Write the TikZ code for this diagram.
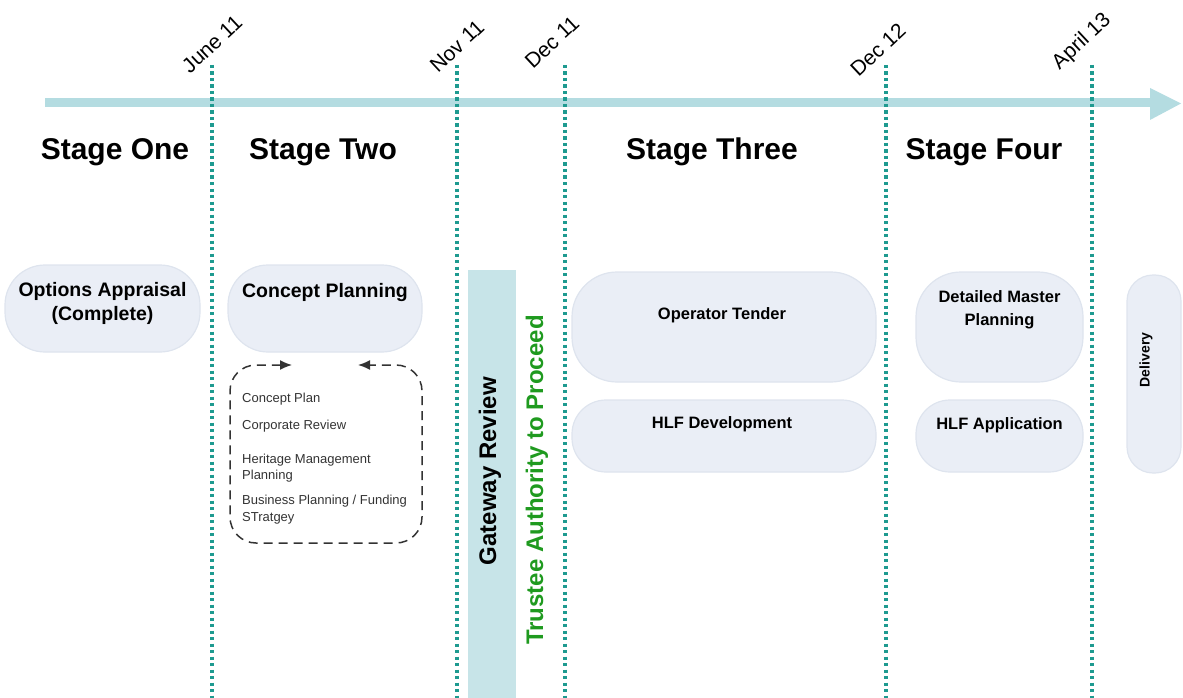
\documentclass[tikz,border=0pt]{standalone}
\usepackage{fontspec}
\setmainfont{Liberation Sans}
\usetikzlibrary{arrows.meta}

\definecolor{barblue}{HTML}{B4DCE1}
\definecolor{gatefill}{HTML}{C7E4E8}
\definecolor{dotteal}{HTML}{1E9A90}
\definecolor{pillfill}{HTML}{EAEEF6}
\definecolor{pilledge}{HTML}{DEE4EE}
\definecolor{trustgreen}{HTML}{1F9A1F}
\definecolor{smalltext}{HTML}{333333}

\begin{document}
\begin{tikzpicture}[x=1pt,y=-1pt,
  pill/.style={fill=pillfill, draw=pilledge, line width=1.2pt, inner sep=0pt},
  stagetitle/.style={font=\fontsize{30}{34}\selectfont\bfseries, anchor=base},
  datelabel/.style={font=\fontsize{21}{25}\selectfont, rotate=43, inner sep=0pt},
  milestone/.style={draw=dotteal, line width=3.4pt, dash pattern=on 3.2pt off 3.3pt},
  bigtask/.style={font=\fontsize{19.5}{24}\selectfont\bfseries, align=center, inner sep=0pt},
  task/.style={font=\fontsize{16.5}{23}\selectfont\bfseries, align=center, inner sep=0pt},
  subtask/.style={font=\fontsize{13}{16.5}\selectfont, text=smalltext, align=left, anchor=base west, inner sep=0pt},
  vertlabel/.style={font=\fontsize{24}{28}\selectfont\bfseries, rotate=90, inner sep=0pt},
  loopline/.style={draw=smalltext, line width=1.5pt, dash pattern=on 9pt off 6pt, rounded corners=26pt}
]
\useasboundingbox (0,0) rectangle (1183,698);

% ---- timeline arrow ----
\fill[barblue] (45,98.5) rectangle (1152,107.5);
\fill[barblue] (1150,88) -- (1181,103.5) -- (1150,120) -- cycle;

% ---- gateway column ----
\node[fill=gatefill, minimum width=48pt, minimum height=428pt, inner sep=0pt] (gate) at (492,484) {};

% ---- milestone lines ----
\foreach \name/\xx in {june/212, nov/457, decA/565, decB/886, apr/1092} {
  \coordinate (\name-top) at (\xx,65);
  \coordinate (\name-bot) at (\xx,698);
  \draw[milestone] (\name-top) -- (\name-bot);
}

% ---- date labels ----
\node[datelabel] (lbl-june) at (212,44) {June 11};
\node[datelabel] (lbl-nov)  at (457,46) {Nov 11};
\node[datelabel] (lbl-decA) at (552,42) {Dec 11};
\node[datelabel] (lbl-decB) at (878,50) {Dec 12};
\node[datelabel] (lbl-apr)  at (1082,42) {April 13};

% ---- stage titles ----
\node[stagetitle] (st1) at (115,160) {Stage One};
\node[stagetitle] (st2) at (323,160) {Stage Two};
\node[stagetitle] (st3) at (712,160) {Stage Three};
\node[stagetitle] (st4) at (984,160) {Stage Four};

% ---- stage one / two ----
\node[pill, rounded corners=40pt, minimum width=195pt, minimum height=87pt] (optpill) at (102.5,308.5) {};
\node[bigtask] (opttext) at (102.5,303) {Options Appraisal\\(Complete)};

\node[pill, rounded corners=40pt, minimum width=194pt, minimum height=87pt] (cppill) at (325,308.5) {};
\node[bigtask, anchor=base] (cptext) at (325,297) {Concept Planning};

% dashed review loop under Concept Planning
\coordinate (loopL) at (292,365);
\coordinate (loopR) at (358,365);
\draw[loopline, {Latex[length=12pt,width=10pt]}-{Latex[length=12pt,width=10pt]}]
  (loopL) -- (230,365) -- (230,543) -- (422,543) -- (422,365) -- (loopR);

\node[subtask] (sub1) at (242,402) {Concept Plan};
\node[subtask] (sub2) at (242,429) {Corporate Review};
\node[subtask] (sub3) at (242,479.5) {Heritage Management\\Planning};
\node[subtask] (sub4) at (242,521) {Business Planning / Funding\\STratgey};

% ---- gateway texts ----
\node[vertlabel] (gatetext) at (490,471) {Gateway Review};
\node[vertlabel, text=trustgreen] (trusttext) at (537,480) {Trustee Authority to Proceed};

% ---- stage three ----
\node[pill, rounded corners=45pt, minimum width=304pt, minimum height=110pt] (oppill) at (724,327) {};
\node[task, anchor=base] (optender) at (722,319) {Operator Tender};

\node[pill, rounded corners=34pt, minimum width=304pt, minimum height=72pt] (hlfdpill) at (724,436) {};
\node[task, anchor=base] (hlfdev) at (722,428) {HLF Development};

% ---- stage four ----
\node[pill, rounded corners=45pt, minimum width=167pt, minimum height=110pt] (dmpill) at (999.5,327) {};
\node[task] (dmtext) at (999.5,310) {Detailed Master\\Planning};

\node[pill, rounded corners=34pt, minimum width=167pt, minimum height=72pt] (hlfapill) at (999.5,436) {};
\node[task, anchor=base] (hlfapp) at (999.5,429) {HLF Application};

% ---- delivery ----
\node[pill, rounded corners=26pt, minimum width=54pt, minimum height=198pt] (delpill) at (1154,374) {};
\node[font=\fontsize{14}{17}\selectfont\bfseries, rotate=90, inner sep=0pt] (deltext) at (1146,360) {Delivery};

\end{tikzpicture}
\end{document}
